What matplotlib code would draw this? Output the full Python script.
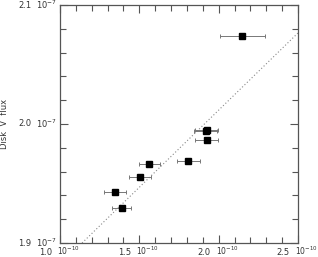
import matplotlib
matplotlib.use("Agg")
import matplotlib.pyplot as plt
from matplotlib.ticker import MultipleLocator
import matplotlib.transforms as mtransforms

# data (x in units of 1e-10, y in units of 1e-7)
x_vals = [2.149, 1.9245, 1.918, 1.9245, 1.8086, 1.5628, 1.504, 1.3466, 1.3889]
y_vals = [2.0742, 1.9950, 1.9940, 1.9866, 1.9692, 1.9667, 1.9557, 1.9431, 1.9292]
x_errs = [0.142, 0.074, 0.072, 0.074, 0.071, 0.067, 0.067, 0.067, 0.059]
line_x = [1.139, 2.5]
line_y = [1.9, 2.0765]
xtick_vals = [1.0, 1.5, 2.0, 2.5]
xtick_nums = ["1.0", "1.5", "2.0", "2.5"]
ytick_vals = [1.9, 2.0, 2.1]
ytick_nums = ["1.9", "2.0", "2.1"]
y_label = "Disk  V  flux"

fig = plt.figure(figsize=(3.18, 2.57), dpi=100)
ax = fig.add_axes([60/318, 1-243/257, 238/318, 238/257])

ax.plot(line_x, line_y, linestyle=(0, (1, 2)), color="#888888", linewidth=0.8)
ax.errorbar(x_vals, y_vals, xerr=x_errs, fmt="s", color="black", markersize=4.0,
            ecolor="#777777", elinewidth=0.7, capsize=1.5, capthick=0.7)

ax.set_xlim(1.0, 2.5)
ax.set_ylim(1.9, 2.1)
ax.xaxis.set_major_locator(MultipleLocator(0.5))
ax.xaxis.set_minor_locator(MultipleLocator(0.1))
ax.yaxis.set_major_locator(MultipleLocator(0.1))
ax.yaxis.set_minor_locator(MultipleLocator(0.02))
ax.tick_params(which="both", direction="in", top=True, right=True, color="#555555", width=0.8)
ax.tick_params(which="major", length=6)
ax.tick_params(which="minor", length=4)
ax.set_xticklabels([])
ax.set_yticklabels([])
for sp in ax.spines.values():
    sp.set_color("#555555")
    sp.set_linewidth(0.9)

fs = 6
col = "#333333"
# y tick labels
for v, s in zip(ytick_vals, ytick_nums):
    tr = ax.get_yaxis_transform()
    ax.text(-0.015, v, r"$10^{-7}$", transform=tr, ha="right", va="center", fontsize=fs, color=col)
    ax.text(-0.12, v, s, transform=tr, ha="right", va="center", fontsize=fs, color=col)
# x tick labels
for v, s in zip(xtick_vals, xtick_nums):
    tr = ax.get_xaxis_transform()
    off1 = mtransforms.offset_copy(tr, fig=fig, x=-3, y=-12, units="dots")
    ax.text(v, 0, r"$10^{-10}$", transform=off1, ha="left", va="baseline", fontsize=5.5, color=col)
    off2 = mtransforms.offset_copy(tr, fig=fig, x=-8, y=-12, units="dots")
    ax.text(v, 0, s, transform=off2, ha="right", va="baseline", fontsize=fs, color=col)

fig.text(5/318, 1-124/257, y_label, rotation=90, ha="center", va="center", fontsize=fs, color=col)

fig.savefig("out.png", dpi=100)
